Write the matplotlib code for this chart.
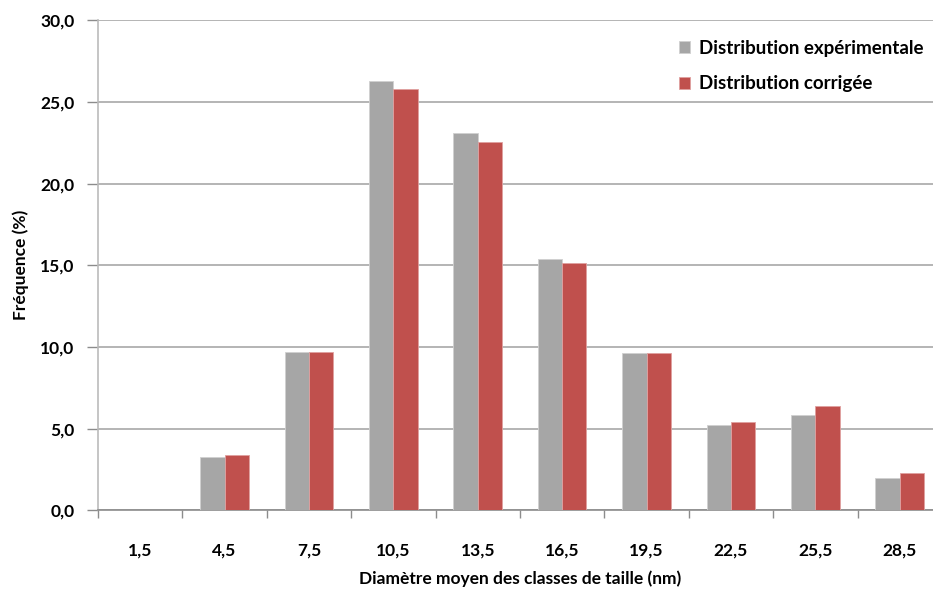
import numpy as np
import matplotlib.pyplot as plt

# diamètre moyen des classes (nm) et fréquences (%)
classes = ['1,5', '4,5', '7,5', '10,5', '13,5', '16,5', '19,5', '22,5', '25,5', '28,5']
freq_exp = [0.0, 3.26, 9.67, 26.29, 23.08, 15.40, 9.65, 5.20, 5.82, 2.00]
freq_corr = [0.0, 3.39, 9.67, 25.80, 22.55, 15.16, 9.65, 5.39, 6.37, 2.30]

plt.rcParams['font.family'] = ['Lato', 'DejaVu Sans']
plt.rcParams['font.weight'] = 'bold'
plt.rcParams['axes.labelweight'] = 'bold'

fig = plt.figure(figsize=(9.33, 5.90), dpi=100)
ax = fig.add_axes([0.105, 0.135, 0.9046, 0.8306])

x = np.arange(len(classes))
w = 0.288
ax.bar(x - w/2, freq_exp, w, color='#A6A6A6', edgecolor='#D0D0D0', linewidth=0.6,
       label='Distribution expérimentale', zorder=3)
ax.bar(x + w/2, freq_corr, w, color='#C0504D', edgecolor='#E0A0A0', linewidth=0.6,
       label='Distribution corrigée', zorder=3)

ax.set_xlim(-0.5, len(classes) - 0.5)
ax.set_ylim(0, 30)
ax.set_yticks(np.arange(0, 31, 5))
ax.set_yticklabels([f'{v:.1f}'.replace('.', ',') for v in np.arange(0, 31, 5)], fontsize=12.5)
ax.set_xticks(x)
ax.set_xticklabels(classes, fontsize=12.5)
ax.set_xticks(np.arange(-0.5, len(classes), 1), minor=True)

ax.grid(axis='y', color='#A8A8A8', linewidth=1.2, zorder=0)
for s in ['top', 'right']:
    ax.spines[s].set_visible(False)
ax.spines['left'].set_color('#BBBBBB')
ax.spines['bottom'].set_color('#8C8C8C')
ax.spines['left'].set_linewidth(1.2)
ax.spines['bottom'].set_linewidth(1.2)

ax.tick_params(axis='x', which='major', length=0, pad=23)
ax.tick_params(axis='x', which='minor', length=6, color='#8C8C8C', width=1)
ax.tick_params(axis='y', length=8, color='#8C8C8C', width=1, pad=9)

ax.set_xlabel('Diamètre moyen des classes de taille (nm)', fontsize=12.5, labelpad=9)
ax.set_ylabel('Fréquence (%)', fontsize=12.5, labelpad=8)

ax.legend(loc='upper left', bbox_to_anchor=(0.668, 0.995), frameon=False, fontsize=13.5,
          handlelength=0.6, handleheight=0.6, handletextpad=0.5, labelspacing=1.0)

fig.savefig('out.png', dpi=100)
